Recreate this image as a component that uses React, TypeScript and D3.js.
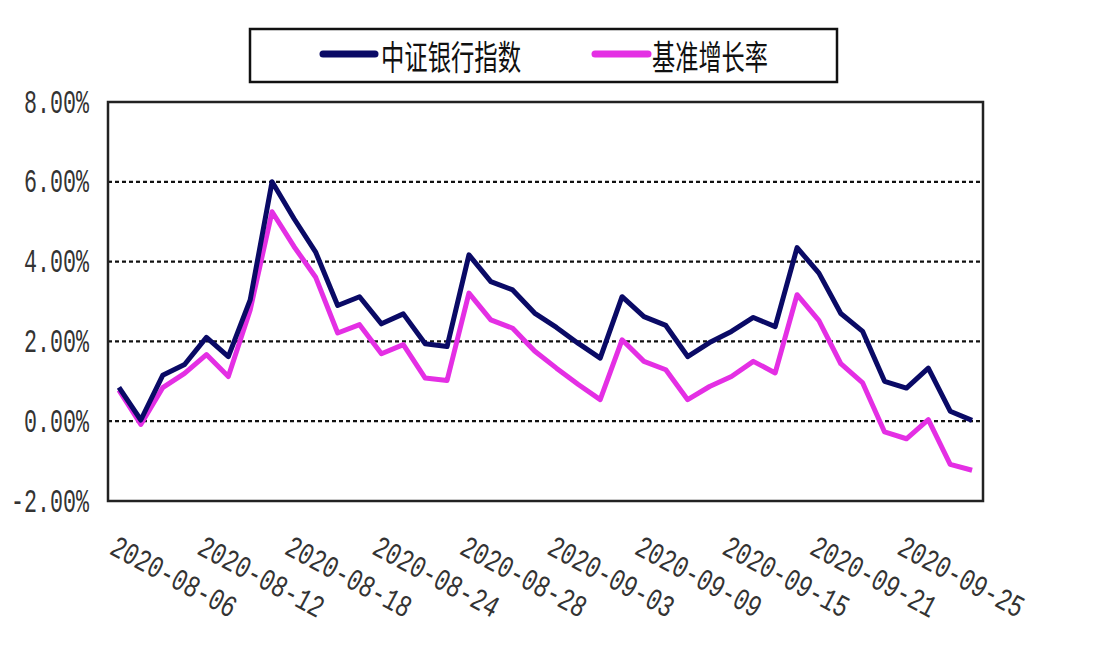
import * as d3 from 'd3';

const dates = [
  '2020-08-06', '2020-08-07', '2020-08-10', '2020-08-11', '2020-08-12',
  '2020-08-13', '2020-08-14', '2020-08-17', '2020-08-18', '2020-08-19',
  '2020-08-20', '2020-08-21', '2020-08-24', '2020-08-25', '2020-08-26',
  '2020-08-27', '2020-08-28', '2020-08-31', '2020-09-01', '2020-09-02',
  '2020-09-03', '2020-09-04', '2020-09-07', '2020-09-08', '2020-09-09',
  '2020-09-10', '2020-09-11', '2020-09-14', '2020-09-15', '2020-09-16',
  '2020-09-17', '2020-09-18', '2020-09-21', '2020-09-22', '2020-09-23',
  '2020-09-24', '2020-09-25', '2020-09-28', '2020-09-29', '2020-09-30',
];

// 中证银行指数 (%)
const bankIndex = [
  0.85, 0.03, 1.15, 1.42, 2.1, 1.62, 3.04, 6.0, 5.08, 4.23,
  2.9, 3.12, 2.44, 2.69, 1.94, 1.87, 4.17, 3.5, 3.29, 2.71,
  2.35, 1.95, 1.58, 3.12, 2.62, 2.4, 1.62, 1.97, 2.25, 2.6,
  2.37, 4.35, 3.71, 2.7, 2.25, 1.0, 0.83, 1.33, 0.25, 0.02,
];

// 基准增长率 (%)
const benchmark = [
  0.78, -0.08, 0.84, 1.2, 1.67, 1.12, 2.79, 5.25, 4.38, 3.6,
  2.21, 2.42, 1.69, 1.92, 1.08, 1.02, 3.21, 2.54, 2.33, 1.76,
  1.33, 0.92, 0.54, 2.04, 1.5, 1.29, 0.54, 0.87, 1.12, 1.5,
  1.21, 3.17, 2.52, 1.44, 0.96, -0.27, -0.44, 0.04, -1.08, -1.23,
];

const yTicks = [-2, 0, 2, 4, 6, 8];
const labelEvery = 4;

const seriesNames = ['中证银行指数', '基准增长率'];
const colors = ['#0a0a66', '#e42fe4'];

export default function App() {
  const width = 1094;
  const height = 648;
  const left = 108;
  const right = 983;
  const top = 102;
  const bottom = 501;

  const x = d3.scalePoint<string>().domain(dates).range([left, right]).padding(0.5);
  const y = d3.scaleLinear().domain([-2, 8]).range([bottom, top]);

  const line = d3
    .line<number>()
    .x((_, i) => x(dates[i]) as number)
    .y((d) => y(d));

  // pink drawn first, navy on top
  const series = [benchmark, bankIndex];
  const seriesColors = [colors[1], colors[0]];

  return (
    <svg
      width={width}
      height={height}
      style={{ position: 'absolute', left: 0, top: 0, background: '#fff' }}
    >
      {/* legend */}
      <rect x={250} y={29} width={587} height={53} fill='#fff' stroke='#111' strokeWidth={2.5} />
      <line x1={323} x2={375} y1={54} y2={54} stroke={colors[0]} strokeWidth={7} strokeLinecap='round' />
      <text
        x={381}
        y={55}
        dominantBaseline='central'
        fontFamily='Noto Sans CJK SC'
        fontSize={34}
        textLength={140}
        lengthAdjust='spacingAndGlyphs'
        fill='#111'
      >
        {seriesNames[0]}
      </text>
      <line x1={595} x2={648} y1={54} y2={54} stroke={colors[1]} strokeWidth={7} strokeLinecap='round' />
      <text
        x={652}
        y={55}
        dominantBaseline='central'
        fontFamily='Noto Sans CJK SC'
        fontSize={34}
        textLength={116}
        lengthAdjust='spacingAndGlyphs'
        fill='#111'
      >
        {seriesNames[1]}
      </text>

      {/* grid */}
      {yTicks
        .filter((t) => t > -2 && t < 8)
        .map((t) => (
          <line
            key={t}
            x1={left}
            x2={right}
            y1={y(t)}
            y2={y(t)}
            stroke='#111'
            strokeWidth={2.2}
            strokeDasharray='4 3'
          />
        ))}
      <rect
        x={left}
        y={top}
        width={right - left}
        height={bottom - top}
        fill='none'
        stroke='#222'
        strokeWidth={2.5}
      />

      {/* y tick labels */}
      {yTicks.map((t) => {
        const label = `${t.toFixed(2)}%`;
        const len = label.length * 13;
        return (
          <text
            key={t}
            x={89 - len}
            y={y(t) + 2}
            dominantBaseline='central'
            fontFamily='Liberation Mono'
            fontSize={33}
            textLength={len}
            lengthAdjust='spacingAndGlyphs'
            fill='#333'
          >
            {label}
          </text>
        );
      })}

      {/* x tick labels */}
      {dates
        .filter((_, i) => i % labelEvery === 0)
        .map((d) => (
          <text
            key={d}
            transform={`translate(${(x(d) as number) - 1},${535}) rotate(28)`}
            dominantBaseline='hanging'
            fontFamily='Liberation Mono'
            fontSize={31}
            textLength={138}
            lengthAdjust='spacingAndGlyphs'
            fill='#333'
          >
            {d}
          </text>
        ))}

      {/* series */}
      {series.map((s, i) => (
        <path
          key={i}
          d={line(s) ?? ''}
          fill='none'
          stroke={seriesColors[i]}
          strokeWidth={5}
          strokeLinejoin='round'
        />
      ))}
    </svg>
  );
}
